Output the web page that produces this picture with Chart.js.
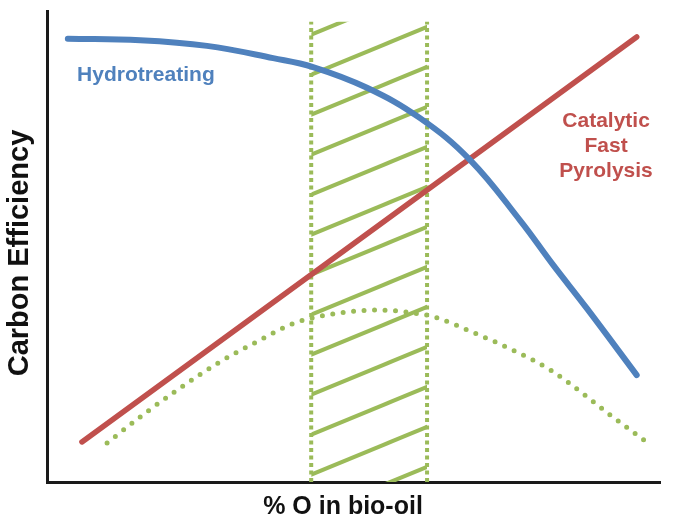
<!DOCTYPE html>
<html>
<head>
<meta charset="utf-8">
<script src="https://cdn.jsdelivr.net/npm/chart.js@4.4.1/dist/chart.umd.min.js"></script>
<style>
  html, body { margin: 0; padding: 0; background: #fff; }
  canvas { display: block; }
</style>
</head>
<body>
<canvas id="carbon-chart" width="685" height="525"></canvas>
<script>
// curve values (arbitrary 0-100 units, no ticks shown)
const hydroX = [3.4, 15.2, 26.1, 36.9, 43.4, 52.2, 60.8, 69.0, 77.2, 82.5, 88.1, 96.2];
const hydroY = [94.1, 93.8, 92.6, 90.0, 88.1, 83.7, 77.3, 68.4, 55.5, 46.2, 36.8, 22.7];

const cfpX = [5.7, 96.2];
const cfpY = [8.5, 94.5];

const optimumX = [9.8, 16.0, 21.2, 28.2, 34.7, 40.5, 48.9, 54.3, 59.7, 63.3, 69.8, 76.0, 82.1, 87.3, 92.3, 97.6];
const optimumY = [8.3, 14.6, 19.5, 25.5, 30.1, 33.8, 36.1, 36.5, 35.9, 35.0, 31.6, 28.0, 23.8, 18.9, 13.8, 8.7];

// hatched band of target oxygen content
const bandX = [43.1, 62.0];
const bandTop = 97.7;

const BLUE = "#4f81bd";
const RED = "#c0504d";
const GREEN = "#9bbb59";
const FONT = '"Liberation Sans", Arial, sans-serif';

const toPoints = (xs, ys) => xs.map((x, i) => ({ x: x, y: ys[i] }));

// diagonal hatch pattern for the band
const makeHatch = () => {
  const h = 40;
  const w = 97;
  const s = h / w;
  const tile = document.createElement("canvas");
  tile.width = w;
  tile.height = h;
  const t = tile.getContext("2d");
  t.strokeStyle = GREEN;
  t.lineWidth = 4;
  for (const k of [-1, 0, 1]) {
    t.beginPath();
    t.moveTo(-5, h + k * h + 5 * s);
    t.lineTo(w + 5, h + k * h - (w + 5) * s);
    t.stroke();
  }
  const pattern = document.createElement("canvas").getContext("2d").createPattern(tile, "repeat");
  pattern.setTransform(new DOMMatrix().translate(0, 3));
  return pattern;
};

const textPlugin = {
  id: "textPlugin",
  afterDatasetsDraw(chart) {
    const { ctx, scales } = chart;
    const x = scales.x;
    const y = scales.y;
    ctx.save();

    ctx.font = "bold 21px " + FONT;
    ctx.textBaseline = "alphabetic";
    ctx.fillStyle = BLUE;
    ctx.textAlign = "left";
    ctx.fillText("Hydrotreating", x.getPixelForValue(4.9), y.getPixelForValue(85.1));

    ctx.fillStyle = RED;
    ctx.textAlign = "center";
    const cx = x.getPixelForValue(91.2);
    const cy = y.getPixelForValue(75.4);
    ["Catalytic", "Fast", "Pyrolysis"].forEach((line, i) => {
      ctx.fillText(line, cx, cy + i * 25);
    });

    // axis titles
    ctx.fillStyle = "#111";
    ctx.font = "bold 25px " + FONT;
    ctx.fillText("% O in bio-oil", 343, 514);

    ctx.font = "bold 29px " + FONT;
    ctx.translate(28, 253);
    ctx.rotate(-Math.PI / 2);
    ctx.fillText("Carbon Efficiency", 0, 0);
    ctx.restore();
  },
};

const canvas = document.getElementById("carbon-chart");
const hatch = makeHatch();

new Chart(canvas, {
  type: "line",
  data: {
    datasets: [
      {
        label: "Hydrotreating",
        data: toPoints(hydroX, hydroY),
        borderColor: BLUE,
        borderWidth: 6,
        borderCapStyle: "round",
        tension: 0.4,
        pointRadius: 0,
      },
      {
        label: "Catalytic Fast Pyrolysis",
        data: toPoints(cfpX, cfpY),
        borderColor: RED,
        borderWidth: 5.5,
        borderCapStyle: "round",
        pointRadius: 0,
      },
      {
        label: "Optimum",
        data: toPoints(optimumX, optimumY),
        borderColor: GREEN,
        borderWidth: 5,
        borderDash: [0, 10.5],
        borderCapStyle: "round",
        cubicInterpolationMode: "monotone",
        pointRadius: 0,
      },
      {
        label: "band left",
        data: toPoints([bandX[0], bandX[0]], [0, bandTop]),
        borderColor: GREEN,
        borderWidth: 4,
        borderDash: [4, 3.5],
        pointRadius: 0,
      },
      {
        label: "band right",
        data: toPoints([bandX[1], bandX[1]], [0, bandTop]),
        borderColor: GREEN,
        borderWidth: 4,
        borderDash: [4, 3.5],
        pointRadius: 0,
      },
      {
        label: "band",
        data: toPoints(bandX, [bandTop, bandTop]),
        borderWidth: 0,
        backgroundColor: hatch,
        fill: "origin",
        pointRadius: 0,
      },
    ],
  },
  options: {
    responsive: false,
    animation: false,
    layout: {
      padding: { left: 47, top: 11, right: 25, bottom: 43 },
    },
    scales: {
      x: {
        type: "linear",
        min: 0,
        max: 100,
        ticks: { display: false },
        grid: { display: false, drawTicks: false },
        border: { display: true, color: "#1a1a1a", width: 3 },
      },
      y: {
        type: "linear",
        min: 0,
        max: 100,
        ticks: { display: false },
        grid: { display: false, drawTicks: false },
        border: { display: true, color: "#1a1a1a", width: 3 },
      },
    },
    plugins: {
      legend: { display: false },
      tooltip: { enabled: false },
    },
  },
  plugins: [textPlugin],
});
</script>
</body>
</html>
